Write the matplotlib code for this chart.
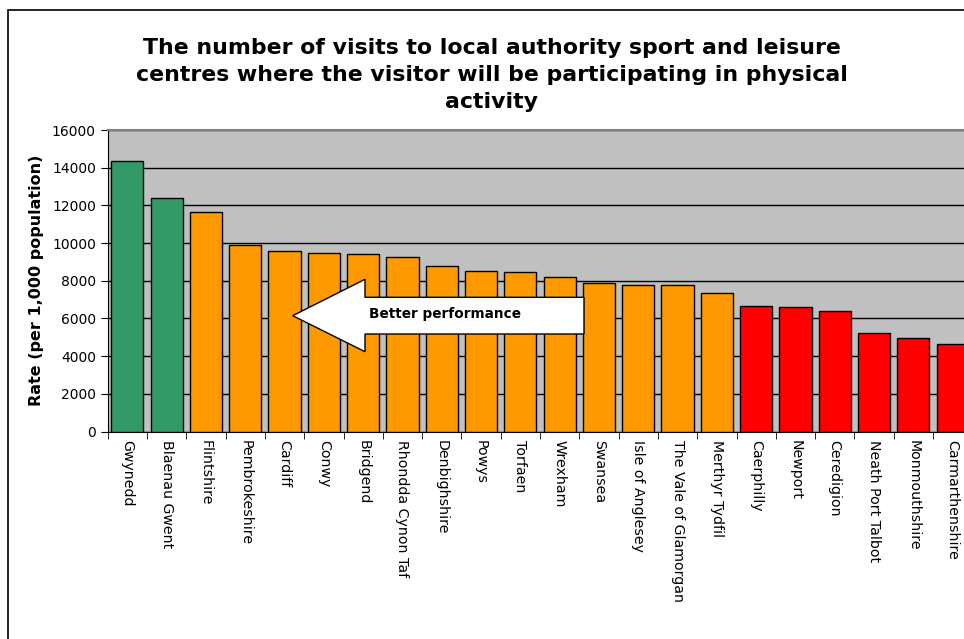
import numpy as np
import matplotlib.pyplot as plt
from matplotlib.patches import Polygon, Rectangle

# ── Data: visits per 1,000 population, by local authority ──
authorities = ["Gwynedd", "Blaenau Gwent", "Flintshire", "Pembrokeshire", "Cardiff",
               "Conwy", "Bridgend", "Rhondda Cynon Taf", "Denbighshire", "Powys",
               "Torfaen", "Wrexham", "Swansea", "Isle of Anglesey",
               "The Vale of Glamorgan", "Merthyr Tydfil", "Caerphilly", "Newport",
               "Ceredigion", "Neath Port Talbot", "Monmouthshire", "Carmarthenshire"]
rates = [14350, 12370, 11640, 9900, 9580, 9490, 9400, 9250, 8800, 8520,
         8440, 8210, 7880, 7790, 7790, 7330, 6660, 6610, 6400, 5230, 4950, 4660]
# performance band: top / middle / bottom
bands = ["top"] * 2 + ["mid"] * 14 + ["low"] * 6

band_colours = {"top": "#339966", "mid": "#FF9900", "low": "#FF0000"}

W, H = 964, 639
fig = plt.figure(figsize=(W / 100, H / 100), dpi=100)
plt.rcParams['font.family'] = ['DejaVu Sans']

# outer chart frame (runs off the right and bottom edge)
fig.patches.append(Rectangle((8 / W, -0.1), 1.2, 1 - 10 / H + 0.1,
                             transform=fig.transFigure, fill=False,
                             edgecolor='black', linewidth=1.2))

# plot area in pixels: left 107.7, top 130, bottom 431, 39.3 px per category
left, top, bottom = 107.7, 130, 431.5
cat_w = 39.3
n = len(authorities)
ax = fig.add_axes([left / W, 1 - bottom / H, n * cat_w / W, (bottom - top) / H])
ax.set_facecolor('#C0C0C0')

x = np.arange(n)
ax.bar(x, rates, width=0.82, color=[band_colours[b] for b in bands],
       edgecolor='black', linewidth=1.0, zorder=3)

ax.set_xlim(-0.5, n - 0.5)
ax.set_ylim(0, 16000)
ax.set_yticks(np.arange(0, 16001, 2000))
ax.yaxis.grid(True, color='black', linewidth=1.0, zorder=0)
ax.set_axisbelow(True)
ax.tick_params(axis='y', labelsize=10, length=5, direction='out', color='black')

ax.set_xticks(x)
ax.set_xticklabels(authorities, rotation=-90, fontsize=10.2, va='top', ha='center')
ax.tick_params(axis='x', which='major', length=0, pad=6)
ax.set_xticks(np.arange(-0.5, n, 1.0), minor=True)
ax.tick_params(axis='x', which='minor', length=5, color='black')

ax.spines['right'].set_visible(False)
ax.spines['top'].set_color('#808080')
ax.spines['top'].set_linewidth(1.5)
ax.spines['left'].set_color('black')
ax.spines['bottom'].set_color('black')

ax.set_ylabel("Rate (per 1,000 population)", fontsize=11.5, fontweight='bold',
              labelpad=6)

fig.text(492 / W, 1 - 75 / H,
         "The number of visits to local authority sport and leisure\n"
         "centres where the visitor will be participating in physical\n"
         "activity",
         ha='center', va='center', fontsize=15.8, fontweight='bold',
         linespacing=1.42)

# "Better performance" arrow pointing left
arrow_px = [(292.7, 315.7), (365, 279.3), (365, 297.3), (584, 297.3),
            (584, 334), (365, 334), (365, 351.7)]
arrow_pts = [(px / W, 1 - py / H) for px, py in arrow_px]
fig.patches.append(Polygon(arrow_pts, closed=True, transform=fig.transFigure,
                           facecolor='white', edgecolor='black', linewidth=1.0,
                           zorder=5))
fig.text(369 / W, 1 - 314 / H, "Better performance", ha='left', va='center',
         fontsize=9.8, fontweight='bold', zorder=6)

fig.savefig("out.png", dpi=100)
